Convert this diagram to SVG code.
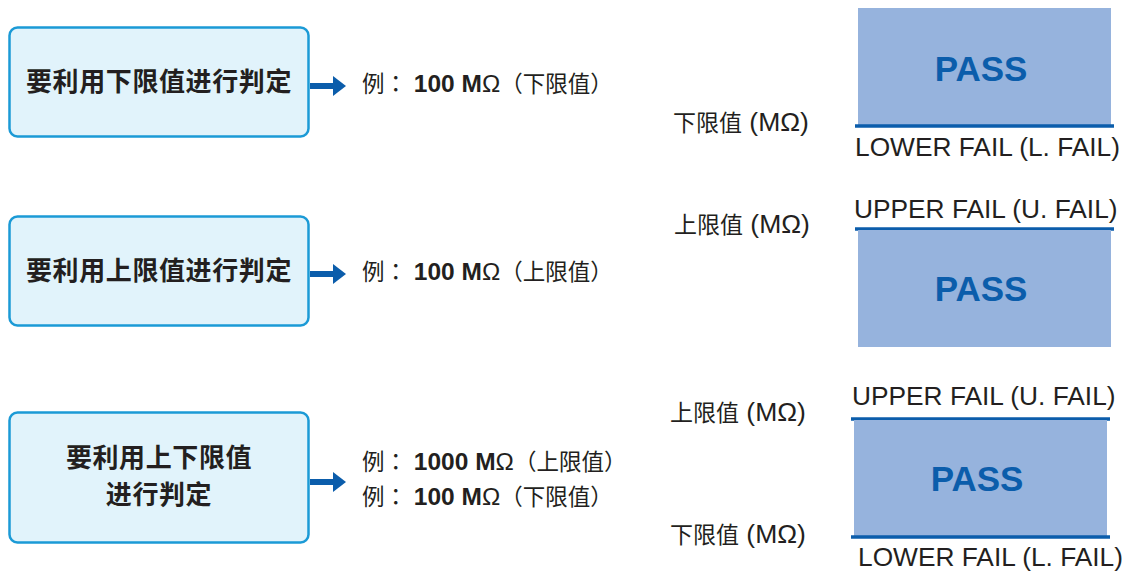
<svg xmlns="http://www.w3.org/2000/svg" width="1126" height="572" viewBox="0 0 1126 572">
<defs>
<style>
.box{fill:#e1f3fb;stroke:#1b9ad6;stroke-width:2.5}
.bt{font-family:"Liberation Sans","Noto Sans CJK SC",sans-serif;font-weight:bold;font-size:26px;fill:#231f20;text-anchor:middle;letter-spacing:0.6px}
.ex{font-family:"Liberation Sans","Noto Sans CJK SC",sans-serif;font-size:22.5px;fill:#231f20}
.l{font-size:24.5px}
.b{font-weight:bold}
.p{font-family:"Noto Sans CJK JP",sans-serif}
.lab{font-family:"Liberation Sans","Noto Sans CJK SC",sans-serif;font-size:23px;fill:#231f20}
.ll{font-size:26.5px}
.fail{font-family:"Liberation Sans","Noto Sans CJK SC",sans-serif;font-size:26.3px;fill:#231f20}
.pass{fill:#96b3dd}
.pt{font-family:"Liberation Sans",sans-serif;font-weight:bold;font-size:35px;fill:#0b5dab;text-anchor:middle}
.lim{stroke:#0b5dab;stroke-width:3.5}
.arr{stroke:#0b5dab;stroke-width:6;fill:none}
.ah{fill:#0b5dab}
</style>
</defs>
<g id="node-lower">
<rect class="box" x="9.5" y="27.5" width="299" height="109" rx="8"/>
<text class="bt" x="159" y="91">要利用下限值进行判定</text>
</g>
<g id="node-upper">
<rect class="box" x="9.5" y="216.5" width="299" height="109" rx="8"/>
<text class="bt" x="159" y="280">要利用上限值进行判定</text>
</g>
<g id="node-both">
<rect class="box" x="9.5" y="412.5" width="299" height="130" rx="8"/>
<text class="bt" x="159" y="467">要利用上下限值</text>
<text class="bt" x="159" y="504">进行判定</text>
</g>
<g id="connectors">
<line class="arr" x1="310" y1="86" x2="334" y2="86"/>
<polygon class="ah" points="333,76 346,86 333,96"/>
<line class="arr" x1="310" y1="274" x2="334" y2="274"/>
<polygon class="ah" points="333,264 346,274 333,284"/>
<line class="arr" x1="310" y1="482" x2="334" y2="482"/>
<polygon class="ah" points="333,472 346,482 333,492"/>
</g>
<g id="example-lower">
<text class="ex" x="362" y="92">例<tspan class="p">：</tspan><tspan class="l b"> 100 M</tspan><tspan class="l">Ω</tspan><tspan class="p">（下限值）</tspan></text>
</g>
<g id="example-upper">
<text class="ex" x="362" y="280">例<tspan class="p">：</tspan><tspan class="l b"> 100 M</tspan><tspan class="l">Ω</tspan><tspan class="p">（上限值）</tspan></text>
</g>
<g id="example-both">
<text class="ex" x="362" y="470">例<tspan class="p">：</tspan><tspan class="l b"> 1000 M</tspan><tspan class="l">Ω</tspan><tspan class="p">（上限值）</tspan></text>
<text class="ex" x="362" y="505">例<tspan class="p">：</tspan><tspan class="l b"> 100 M</tspan><tspan class="l">Ω</tspan><tspan class="p">（下限值）</tspan></text>
</g>
<g id="chart-lower">
<rect class="pass" x="858" y="8" width="253" height="118"/>
<text class="pt" x="981" y="81">PASS</text>
<line class="lim" x1="855" y1="126" x2="1114" y2="126"/>
<text class="lab" x="673" y="131">下限值<tspan class="ll"> (MΩ)</tspan></text>
<text class="fail" x="855" y="156">LOWER FAIL (L. FAIL)</text>
</g>
<g id="chart-upper">
<text class="fail" x="854" y="218">UPPER FAIL (U. FAIL)</text>
<text class="lab" x="674" y="233">上限值<tspan class="ll"> (MΩ)</tspan></text>
<line class="lim" x1="855" y1="229" x2="1114" y2="229"/>
<rect class="pass" x="858" y="230" width="253" height="117"/>
<text class="pt" x="981" y="301">PASS</text>
</g>
<g id="chart-both">
<text class="fail" x="852" y="405">UPPER FAIL (U. FAIL)</text>
<text class="lab" x="670" y="421">上限值<tspan class="ll"> (MΩ)</tspan></text>
<line class="lim" x1="851" y1="419" x2="1110" y2="419"/>
<rect class="pass" x="854" y="420" width="253" height="117"/>
<line class="lim" x1="851" y1="537" x2="1110" y2="537"/>
<text class="pt" x="977" y="491">PASS</text>
<text class="lab" x="670" y="543">下限值<tspan class="ll"> (MΩ)</tspan></text>
<text class="fail" x="858" y="566">LOWER FAIL (L. FAIL)</text>
</g>
</svg>
